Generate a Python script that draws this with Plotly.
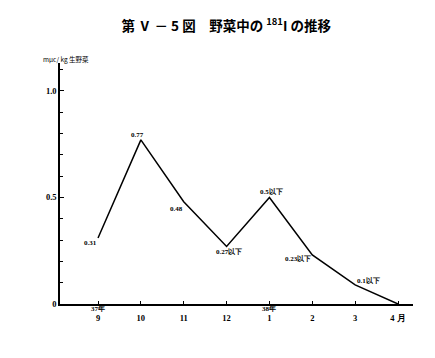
import plotly.graph_objects as go

months = ["9", "10", "11", "12", "1", "2", "3", "4 月"]
values = [0.31, 0.77, 0.48, 0.27, 0.50, 0.23, 0.09, 0.0]
labels = ["0.31", "0.77", "0.48", "0.27以下", "0.5以下", "0.23以下", "0.1以下", ""]
label_shift = [(-8, -5), (-3, 5), (-7, -7), (2, -6), (2, 5), (-14, -4), (13, 4), (0, 0)]
year_labels = {0: "37年", 4: "38年"}
y_ticks = [0, 0.5, 1.0]
y_ticktext = ["0", "0.5", "1.0"]

xs = list(range(len(months)))

fig = go.Figure()
fig.add_trace(go.Scatter(x=xs, y=values, mode="lines",
                         line=dict(color="black", width=1.5),
                         hoverinfo="skip", showlegend=False))

num_font = dict(family="Liberation Serif", size=8.5, color="black", weight="bold")
lab_font = dict(family="Liberation Serif", size=7, color="black", weight="bold")

for x, y, t, (dx, dy) in zip(xs, values, labels, label_shift):
    if t:
        fig.add_annotation(x=x, y=y, text=t, showarrow=False, font=lab_font,
                           xshift=dx, yshift=dy)

for x, t in year_labels.items():
    fig.add_annotation(x=x, y=0, text=t, showarrow=False, font=lab_font,
                       yshift=-5)

fig.add_annotation(xref="paper", yref="paper", x=-0.055, y=1.0, xanchor="left",
                   yanchor="bottom", text="mμc/ kg 生野菜", showarrow=False,
                   font=dict(family="Noto Sans CJK JP", size=6.5, color="black"),
                   yshift=-3)

fig.update_layout(
    width=435, height=358,
    margin=dict(l=60, r=22, t=63, b=54),
    paper_bgcolor="white", plot_bgcolor="white",
    title=dict(text="第 Ⅴ － 5 図　野菜中の <sup>181</sup>I の推移",
               x=0.52, xanchor="center", y=0.927, yanchor="middle",
               font=dict(family="Noto Sans CJK JP", size=13.5, color="black", weight="bold")),
    xaxis=dict(range=[-0.887, 7.35], tickvals=xs, ticktext=months,
               showline=True, linecolor="black", linewidth=1.5, mirror=False,
               ticks="inside", ticklen=3, tickcolor="black", tickwidth=1,
               showgrid=False, zeroline=False, tickfont=num_font,
               ticklabelstandoff=5),
    yaxis=dict(range=[0, 1.131], tickvals=y_ticks, ticktext=y_ticktext,
               showline=True, linecolor="black", linewidth=1.5,
               ticks="inside", ticklen=4, tickcolor="black", tickwidth=1,
               minor=dict(dtick=0.1, tick0=0, ticks="inside", ticklen=3,
                          tickcolor="black", tickwidth=1, showgrid=False),
               showgrid=False, zeroline=False, tickfont=num_font),
)

fig.write_html("out.html", config={"displayModeBar": False},
               post_script="document.body.style.margin='0';document.body.style.padding='0';")
